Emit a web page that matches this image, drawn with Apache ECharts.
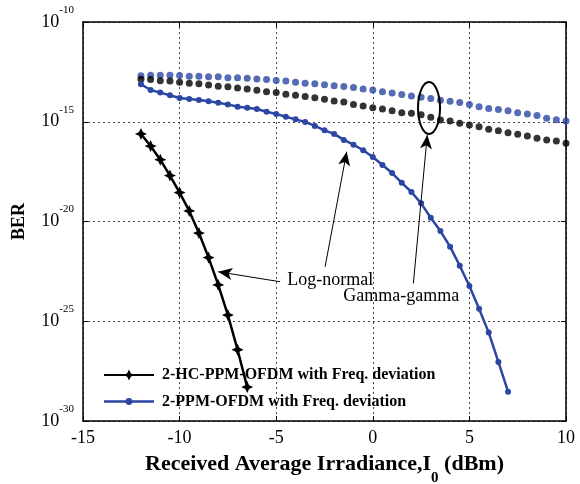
<!DOCTYPE html>
<html><head><meta charset="utf-8">
<script src="https://cdn.jsdelivr.net/npm/echarts@6/dist/echarts.min.js"></script>
<style>html,body{margin:0;padding:0;background:#fff}#c{width:580px;height:484px}</style>
</head><body><div id="c"></div>
<script>
// ---- data (BER given as log10 exponents) ----
const hcX = [-12,-11.5,-11,-10.5,-10,-9.5,-9,-8.5,-8,-7.5,-7,-6.5];
const hcLogNormalExp = [-15.61,-16.22,-16.90,-17.70,-18.55,-19.47,-20.58,-21.81,-23.18,-24.69,-26.43,-28.30];

const ppmX = [-12,-11.5,-11,-10.5,-10,-9.5,-9,-8.5,-8,-7.5,-7,-6.5,-6,-5.5,-5,-4.5,-4,-3.5,-3,-2.5,-2,-1.5,-1,-0.5,0,0.5,1,1.5,2,2.5,3,3.5,4,4.5,5,5.5,6,6.5,7];
const ppmLogNormalExp = [-13.12,-13.41,-13.54,-13.67,-13.81,-13.86,-13.91,-13.97,-14.05,-14.13,-14.25,-14.30,-14.36,-14.50,-14.61,-14.75,-14.88,-15.01,-15.21,-15.43,-15.61,-15.91,-16.15,-16.43,-16.77,-17.17,-17.57,-18.06,-18.52,-19.09,-19.81,-20.48,-21.26,-22.22,-23.23,-24.37,-25.57,-27.04,-28.53];

const ggX = [-12,-11.5,-11,-10.5,-10,-9.5,-9,-8.5,-8,-7.5,-7,-6.5,-6,-5.5,-5,-4.5,-4,-3.5,-3,-2.5,-2,-1.5,-1,-0.5,0,0.5,1,1.5,2,2.5,3,3.5,4,4.5,5,5.5,6,6.5,7,7.5,8,8.5,9,9.5,10];
const ggPpmExp = [-12.69,-12.67,-12.67,-12.67,-12.68,-12.72,-12.72,-12.74,-12.75,-12.79,-12.80,-12.82,-12.86,-12.88,-12.93,-12.96,-13.02,-13.07,-13.10,-13.15,-13.20,-13.23,-13.28,-13.36,-13.41,-13.50,-13.56,-13.64,-13.71,-13.77,-13.83,-13.92,-13.97,-14.03,-14.13,-14.25,-14.33,-14.38,-14.45,-14.55,-14.61,-14.69,-14.82,-14.90,-14.96];
const ggHcExp = [-12.87,-12.88,-12.94,-12.96,-13.02,-13.07,-13.10,-13.16,-13.22,-13.25,-13.31,-13.36,-13.42,-13.49,-13.54,-13.62,-13.67,-13.74,-13.80,-13.87,-13.96,-14.01,-14.13,-14.21,-14.30,-14.36,-14.45,-14.55,-14.58,-14.65,-14.78,-14.91,-14.96,-15.08,-15.16,-15.25,-15.38,-15.45,-15.55,-15.63,-15.71,-15.83,-15.91,-15.96,-16.08];

const xTickMin = -15, xTickMax = 10, xTickStep = 5;
const yExpMin = -30, yExpMax = -10, yExpStep = 5;   // y ticks: 10^-30 ... 10^-10

const names = ['2-HC-PPM-OFDM with Freq. deviation', '2-PPM-OFDM with Freq. deviation'];
// annotation anchors (data coords: x, log10 BER)
const ellipseCenter = [2.91, -14.31];
const arrows = [
  [[-2.47, -22.27], [-1.35, -16.50]],
  [[-4.80, -23.02], [-8.00, -22.52]],
  [[2.10, -23.10], [2.82, -15.66]]
];
const textNotes = [
  {text: 'Log-normal', at: [-4.43, -22.93]},
  {text: 'Gamma-gamma', at: [-1.53, -23.73]}
];

// ---- build ----
const BLUE = '#2c46a4';
const SERIF = '"Liberation Serif","Times New Roman",serif';
const pairs = (xs, es) => xs.map((x, i) => [x, es[i]]);
const starPath = 'path://M0,-10 L3.2,-3.2 L10,0 L3.2,3.2 L0,10 L-3.2,3.2 L-10,0 L-3.2,-3.2 Z';
// legend icon for the circle-marker line: thick line + small dot (corner specks fix the bbox)
const dotLineIcon = 'path://M0,0 L0.01,0 L0,0.01 Z M50,14 L49.99,14 L50,13.99 Z M0,5.8 L50,5.8 L50,8.2 L0,8.2 Z M28.4,7 A3.4,3.4 0 1 1 21.6,7 A3.4,3.4 0 1 1 28.4,7 Z';

const chart = echarts.init(document.getElementById('c'), null, {renderer: 'canvas'});

const xBase = {
  type: 'value', min: xTickMin, max: xTickMax, interval: xTickStep,
  axisLine: {show: true, onZero: false, lineStyle: {color: '#000', width: 1.5}},
  axisTick: {show: true, inside: true, length: 5, lineStyle: {color: '#000', width: 1}},
  splitLine: {show: false}
};
const yBase = {
  type: 'value', min: yExpMin, max: yExpMax, interval: yExpStep,
  axisLine: {show: true, onZero: false, lineStyle: {color: '#000', width: 1.5}},
  axisTick: {show: true, inside: true, length: 5, lineStyle: {color: '#000', width: 1}},
  splitLine: {show: false}
};

chart.setOption({
  animation: false,
  backgroundColor: '#fff',
  grid: {left: 83, right: 14, top: 22, bottom: 63, show: false, containLabel: false, outerBoundsMode: 'none'},
  xAxis: [
    Object.assign({}, xBase, {
      position: 'bottom',
      splitLine: {show: true, lineStyle: {color: '#444', width: 1, type: [2, 3]}},
      axisLabel: {color: '#000', fontFamily: SERIF, fontSize: 18, margin: 8},
      name: '{a|Received Average Irradiance,I}{sub|0}{a| (dBm)}',
      nameLocation: 'middle', nameGap: 31, nameMoveOverlap: false,
      nameTextStyle: {
        color: '#000',
        rich: {
          a: {fontFamily: SERIF, fontWeight: 'bold', fontSize: 22, lineHeight: 24, verticalAlign: 'middle', color: '#000'},
          sub: {fontFamily: SERIF, fontWeight: 'bold', fontSize: 15, lineHeight: 15, verticalAlign: 'middle', padding: [28, 0, 0, 0], color: '#000'}
        }
      }
    }),
    Object.assign({}, xBase, {position: 'top', axisLabel: {show: false}})
  ],
  yAxis: [
    Object.assign({}, yBase, {
      position: 'left',
      splitLine: {show: true, lineStyle: {color: '#444', width: 1, type: [2, 3]}},
      axisLabel: {
        margin: 9, verticalAlign: 'middle',
        formatter: v => '{b|10}{s|' + Math.round(v) + '}',
        rich: {
          b: {fontFamily: SERIF, fontSize: 18, lineHeight: 18, verticalAlign: 'middle', color: '#000'},
          s: {fontFamily: SERIF, fontSize: 11, lineHeight: 11, verticalAlign: 'middle', padding: [0, 0, 24, 0], color: '#000'}
        }
      },
      name: 'BER', nameLocation: 'middle', nameGap: 55, nameRotate: 90, nameMoveOverlap: false,
      nameTextStyle: {fontFamily: SERIF, fontWeight: 'bold', fontSize: 18, color: '#000'}
    }),
    Object.assign({}, yBase, {position: 'right', axisLabel: {show: false}})
  ],
  legend: {
    data: [{name: names[0]}, {name: names[1], icon: dotLineIcon}],
    orient: 'vertical', left: 103, top: 367, padding: 0,
    itemWidth: 50, itemHeight: 14, itemGap: 10.5,
    textStyle: {fontFamily: SERIF, fontWeight: 'bold', fontSize: 16, color: '#000', padding: [0, 0, 0, 3]},
    backgroundColor: 'transparent'
  },
  series: [
    {
      name: 'gg-ppm', type: 'scatter', data: pairs(ggX, ggPpmExp),
      symbol: 'circle', symbolSize: 7, itemStyle: {color: BLUE}, z: 3
    },
    {
      name: 'gg-hc', type: 'scatter', data: pairs(ggX, ggHcExp),
      symbol: 'circle', symbolSize: 7, itemStyle: {color: '#000'}, z: 3,
      markLine: {
        silent: true, symbol: ['none', 'arrow'], symbolSize: [9, 14], precision: 4,
        label: {show: false},
        lineStyle: {color: '#000', width: 1, type: 'solid'},
        emphasis: {disabled: true},
        data: arrows.map(a => [{coord: a[0]}, {coord: a[1]}])
      }
    },
    {
      name: names[1], type: 'line', data: pairs(ppmX, ppmLogNormalExp),
      symbol: 'circle', symbolSize: 6, showAllSymbol: true,
      lineStyle: {color: BLUE, width: 2.5}, itemStyle: {color: BLUE}, z: 4
    },
    {
      name: names[0], type: 'line', data: pairs(hcX, hcLogNormalExp),
      symbol: starPath, symbolSize: 12, showAllSymbol: true,
      lineStyle: {color: '#000', width: 2.5}, itemStyle: {color: '#000'}, z: 5
    }
  ]
});

// annotations placed through the chart's own scales
const toPx = (p) => chart.convertToPixel({xAxisIndex: 0, yAxisIndex: 0}, p);
const ec = toPx(ellipseCenter);
const gfx = [
  {type: 'ellipse', shape: {cx: ec[0], cy: ec[1], rx: 11, ry: 26},
   style: {fill: 'none', stroke: '#000', lineWidth: 2}, z: 10}
];
textNotes.forEach(t => {
  const p = toPx(t.at);
  gfx.push({type: 'text', x: p[0], y: p[1], z: 10,
    style: {text: t.text, fontFamily: SERIF, fontSize: 18, fill: '#000', verticalAlign: 'middle', align: 'left'}});
});
chart.setOption({graphic: gfx});
</script>
</body></html>
